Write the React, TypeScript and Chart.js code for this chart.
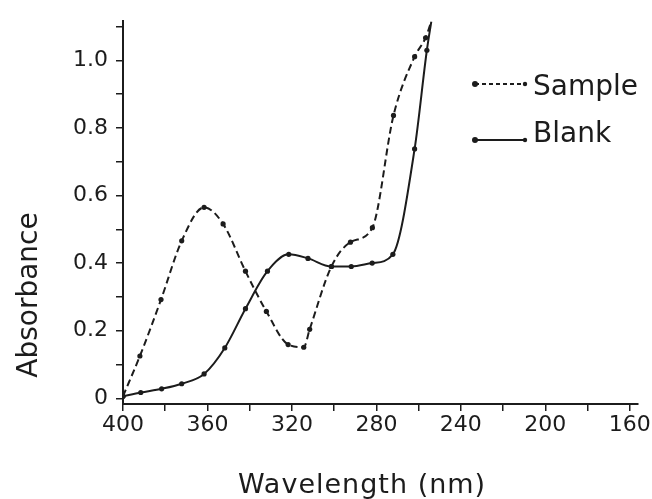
import React, { useEffect, useRef } from "react";
import { Chart, registerables } from "chart.js";

Chart.register(...registerables);

// Wavelength (nm) and absorbance
const sampleWavelength = [400, 392, 382, 372.2, 361.6, 352.6, 342, 332.1, 321.8, 314.4, 311.6, 301.3, 292.3, 281.9, 271.9, 261.9, 256.7, 254];
const sampleAbsorbance = [0.006, 0.125, 0.292, 0.466, 0.565, 0.516, 0.376, 0.257, 0.159, 0.151, 0.204, 0.39, 0.462, 0.505, 0.837, 1.011, 1.067, 1.115];

const blankWavelength = [400, 391.6, 381.7, 372.2, 361.6, 351.8, 342, 331.6, 321.5, 312.4, 301.3, 291.9, 282, 272.2, 261.9, 256.1, 254];
const blankAbsorbance = [0.006, 0.017, 0.028, 0.043, 0.072, 0.149, 0.265, 0.376, 0.426, 0.414, 0.39, 0.39, 0.4, 0.426, 0.738, 1.03, 1.115];

const seriesLabels = ["Sample", "Blank"];
const xTitle = "Wavelength (nm)";
const yTitle = "Absorbance";

const INK = "#1c1c1c";
const FONT = '"DejaVu Sans"';

const toPoints = (xs: number[], ys: number[]) => xs.map((x, i) => ({ x, y: ys[i] }));

const annotations = {
  id: "annotations",
  afterDraw(chart: any) {
    const ctx = chart.ctx as CanvasRenderingContext2D;
    ctx.save();
    ctx.fillStyle = INK;
    ctx.strokeStyle = INK;

    // y title
    ctx.save();
    ctx.font = `28px ${FONT}`;
    ctx.textAlign = "center";
    ctx.textBaseline = "alphabetic";
    ctx.translate(37, 295);
    ctx.rotate(-Math.PI / 2);
    ctx.fillText(yTitle, 0, 0);
    ctx.restore();

    // x title
    ctx.save();
    ctx.font = `27px ${FONT}`;
    (ctx as any).letterSpacing = "1px";
    ctx.textAlign = "center";
    ctx.textBaseline = "alphabetic";
    ctx.fillText(xTitle, 362, 493);
    ctx.restore();

    // legend
    const drawEntry = (y: number, textY: number, dashed: boolean, label: string) => {
      ctx.save();
      ctx.lineWidth = 2;
      ctx.setLineDash(dashed ? [4, 3] : []);
      ctx.beginPath();
      ctx.moveTo(475, y);
      ctx.lineTo(525, y);
      ctx.stroke();
      ctx.setLineDash([]);
      ctx.beginPath();
      ctx.arc(475, y, 3, 0, Math.PI * 2);
      ctx.fill();
      ctx.beginPath();
      ctx.arc(525, y, 2.2, 0, Math.PI * 2);
      ctx.fill();
      ctx.font = `28px ${FONT}`;
      ctx.textAlign = "left";
      ctx.textBaseline = "alphabetic";
      ctx.fillText(label, 533, textY);
      ctx.restore();
    };
    drawEntry(84, 95, true, seriesLabels[0]);
    drawEntry(140, 142, false, seriesLabels[1]);

    ctx.restore();
  },
};

export default function App() {
  const ref = useRef<HTMLCanvasElement | null>(null);

  useEffect(() => {
    document.body.style.margin = "0";
    const canvas = ref.current;
    if (!canvas) return;
    const chart = new Chart(canvas, {
      type: "line",
      data: {
        datasets: [
          {
            label: seriesLabels[0],
            data: toPoints(sampleWavelength, sampleAbsorbance),
            borderColor: INK,
            backgroundColor: INK,
            borderWidth: 2,
            borderDash: [7, 4],
            pointRadius: (c: any) => (c.dataIndex === sampleWavelength.length - 1 ? 0 : 2.6),
            pointBorderWidth: 0,
            cubicInterpolationMode: "monotone",
            fill: false,
          },
          {
            label: seriesLabels[1],
            data: toPoints(blankWavelength, blankAbsorbance),
            borderColor: INK,
            backgroundColor: INK,
            borderWidth: 2,
            pointRadius: (c: any) => (c.dataIndex === blankWavelength.length - 1 ? 0 : 2.6),
            pointBorderWidth: 0,
            cubicInterpolationMode: "monotone",
            fill: false,
          },
        ],
      },
      options: {
        responsive: false,
        animation: false,
        devicePixelRatio: 1,
        layout: { padding: { top: 13, right: 13, left: 0, bottom: 0 } },
        plugins: { legend: { display: false }, tooltip: { enabled: false } },
        scales: {
          x: {
            type: "linear",
            min: 156,
            max: 400,
            reverse: true,
            afterFit: (s: any) => {
              s.height = 95;
            },
            border: { display: true, color: INK, width: 2 },
            grid: { display: true, drawOnChartArea: false, drawTicks: true, tickLength: 7, color: INK, lineWidth: 1.5 },
            ticks: {
              stepSize: 20,
              autoSkip: false,
              maxRotation: 0,
              includeBounds: false,
              padding: 1,
              color: INK,
              font: { family: "DejaVu Sans", size: 22 },
              callback: (v: any) => (Math.round(v) % 40 === 0 ? String(Math.round(v)) : ""),
            },
          },
          y: {
            type: "linear",
            min: -0.017,
            max: 1.116,
            afterFit: (s: any) => {
              s.width = 123;
            },
            border: { display: true, color: INK, width: 2 },
            grid: { display: true, drawOnChartArea: false, drawTicks: true, tickLength: 7, color: INK, lineWidth: 1.5 },
            ticks: {
              stepSize: 0.1,
              autoSkip: false,
              includeBounds: false,
              padding: 8,
              color: INK,
              font: { family: "DejaVu Sans", size: 22 },
              callback: (v: any) => {
                const k = Math.round(Number(v) * 10);
                if (k % 2 !== 0) return "";
                return k === 0 ? "0" : (k / 10).toFixed(1);
              },
            },
          },
        },
      },
      plugins: [annotations],
    } as any);
    return () => chart.destroy();
  }, []);

  return <canvas ref={ref} width={652} height={499} style={{ display: "block" }} />;
}
